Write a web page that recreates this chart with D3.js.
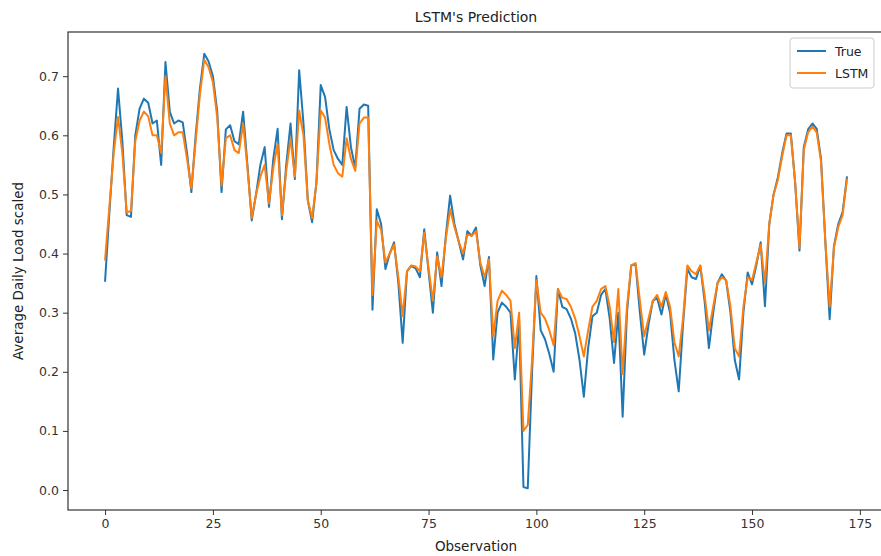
<!DOCTYPE html>
<html>
<head>
<meta charset="utf-8">
<script src="https://cdn.jsdelivr.net/npm/d3@7"></script>
<style>
  html, body { margin: 0; padding: 0; background: #fff; }
  svg { display: block; font-family: "DejaVu Sans", sans-serif; }
</style>
</head>
<body>
<svg id="chart" width="881" height="556"></svg>
<script>
// Observed daily load (scaled) and the LSTM's prediction for each observation.
const trueValues = [
  0.354, 0.47, 0.58, 0.679, 0.59, 0.465, 0.462, 0.60, 0.645, 0.662,
  0.655, 0.62, 0.625, 0.55, 0.724, 0.64, 0.62, 0.625, 0.622, 0.57,
  0.504, 0.60, 0.68, 0.738, 0.725, 0.70, 0.64, 0.504, 0.61, 0.617,
  0.59, 0.585, 0.64, 0.55, 0.456, 0.50, 0.55, 0.58, 0.479, 0.56,
  0.611, 0.458, 0.55, 0.62, 0.526, 0.71, 0.62, 0.49, 0.453, 0.52,
  0.685, 0.665, 0.61, 0.575, 0.56, 0.55, 0.648, 0.58, 0.545, 0.645,
  0.652, 0.65, 0.305, 0.475, 0.45, 0.374, 0.40, 0.419, 0.35, 0.249,
  0.37, 0.379, 0.375, 0.36, 0.441, 0.37, 0.30, 0.402, 0.345, 0.43,
  0.498, 0.45, 0.42, 0.39, 0.438, 0.43, 0.444, 0.38, 0.345, 0.394,
  0.221, 0.30, 0.317, 0.31, 0.30, 0.187, 0.283, 0.005, 0.003, 0.20,
  0.362, 0.27, 0.255, 0.23, 0.20, 0.34, 0.31, 0.306, 0.29, 0.265,
  0.22, 0.158, 0.24, 0.294, 0.30, 0.33, 0.34, 0.29, 0.215, 0.30,
  0.124, 0.30, 0.38, 0.382, 0.30, 0.229, 0.28, 0.32, 0.325, 0.297,
  0.331, 0.30, 0.22, 0.167, 0.28, 0.374, 0.36, 0.357, 0.379, 0.32,
  0.24, 0.30, 0.35, 0.365, 0.354, 0.30, 0.22, 0.187, 0.30, 0.368,
  0.348, 0.38, 0.419, 0.311, 0.45, 0.50, 0.529, 0.57, 0.603, 0.603,
  0.52, 0.405, 0.58, 0.61, 0.62, 0.611, 0.56, 0.42, 0.289, 0.413,
  0.45, 0.47, 0.529
];

const lstmValues = [
  0.39, 0.48, 0.57, 0.631, 0.57, 0.47, 0.472, 0.59, 0.625, 0.64,
  0.632, 0.60, 0.60, 0.57, 0.70, 0.62, 0.60, 0.605, 0.605, 0.56,
  0.51, 0.59, 0.67, 0.728, 0.715, 0.69, 0.63, 0.515, 0.595, 0.60,
  0.575, 0.57, 0.62, 0.545, 0.46, 0.50, 0.53, 0.55, 0.485, 0.545,
  0.585, 0.465, 0.54, 0.595, 0.53, 0.642, 0.60, 0.49, 0.46, 0.52,
  0.642, 0.63, 0.585, 0.55, 0.536, 0.53, 0.595, 0.56, 0.54, 0.62,
  0.63, 0.63, 0.33, 0.455, 0.44, 0.385, 0.40, 0.415, 0.36, 0.294,
  0.37, 0.38, 0.378, 0.37, 0.435, 0.375, 0.32, 0.395, 0.36, 0.425,
  0.475, 0.445, 0.42, 0.40, 0.432, 0.43, 0.438, 0.385, 0.36, 0.39,
  0.26, 0.32, 0.337, 0.33, 0.32, 0.24, 0.30, 0.10, 0.11, 0.22,
  0.355, 0.30, 0.29, 0.27, 0.245, 0.34, 0.325, 0.323, 0.31, 0.29,
  0.26, 0.226, 0.27, 0.31, 0.32, 0.34, 0.345, 0.31, 0.25, 0.34,
  0.196, 0.31, 0.38, 0.384, 0.32, 0.26, 0.29, 0.32, 0.33, 0.31,
  0.335, 0.31, 0.25, 0.226, 0.29, 0.38, 0.37, 0.365, 0.38, 0.33,
  0.27, 0.31, 0.35, 0.36, 0.355, 0.31, 0.24, 0.226, 0.31, 0.36,
  0.355, 0.385, 0.415, 0.35, 0.45, 0.50, 0.525, 0.565, 0.60, 0.60,
  0.52, 0.41, 0.575, 0.605, 0.615, 0.605, 0.555, 0.42, 0.31, 0.41,
  0.445, 0.465, 0.525
];

const xTickValues = [0, 25, 50, 75, 100, 125, 150, 175];
const yTickValues = [0.0, 0.1, 0.2, 0.3, 0.4, 0.5, 0.6, 0.7];
const seriesNames = ["True", "LSTM"];
const seriesColors = ["#1f77b4", "#ff7f0e"];

const svg = d3.select("#chart");
// The axes box runs a few pixels past the right edge of the canvas.
const plot = { left: 68, top: 32, right: 884, bottom: 510 };

// Axis limits padded by 5% of the data span on each side.
const n = trueValues.length;
const xPad = (n - 1) * 0.05;
const allValues = trueValues.concat(lstmValues);
const [yMin, yMax] = d3.extent(allValues);
const yPad = (yMax - yMin) * 0.05;

const x = d3.scaleLinear().domain([-xPad, n - 1 + xPad]).range([plot.left, plot.right]);
const y = d3.scaleLinear().domain([yMin - yPad, yMax + yPad]).range([plot.bottom, plot.top]);

// Lines
const line = d3.line().x((d, i) => x(i)).y(d => y(d));
const g = svg.append("g");
[trueValues, lstmValues].forEach((vals, k) => {
  g.append("path")
    .datum(vals)
    .attr("fill", "none")
    .attr("stroke", seriesColors[k])
    .attr("stroke-width", 2)
    .attr("stroke-linejoin", "round")
    .attr("stroke-linecap", "square")
    .attr("d", line);
});

// Axes
const xAxis = d3.axisBottom(x).tickValues(xTickValues).tickFormat(d3.format("d")).tickSize(5).tickPadding(4);
const yAxis = d3.axisLeft(y).tickValues(yTickValues).tickFormat(d3.format(".1f")).tickSize(5).tickPadding(4);

const gx = svg.append("g").attr("transform", `translate(0,${plot.bottom})`).call(xAxis);
const gy = svg.append("g").attr("transform", `translate(${plot.left},0)`).call(yAxis);
[gx, gy].forEach(ax => {
  ax.select(".domain").remove();
  ax.selectAll(".tick line").attr("stroke", "#333").attr("stroke-width", 1);
  ax.selectAll(".tick text").attr("fill", "#333").style("font-size", "12.5px").style("font-family", "DejaVu Sans");
});

// Frame
svg.append("rect")
  .attr("x", plot.left).attr("y", plot.top)
  .attr("width", plot.right - plot.left).attr("height", plot.bottom - plot.top)
  .attr("fill", "none").attr("stroke", "#333").attr("stroke-width", 1.2);

// Titles
svg.append("text")
  .attr("x", (plot.left + plot.right) / 2).attr("y", 22)
  .attr("text-anchor", "middle").attr("fill", "#222")
  .style("font-size", "14px")
  .text("LSTM's Prediction");

svg.append("text")
  .attr("x", (plot.left + plot.right) / 2).attr("y", 551)
  .attr("text-anchor", "middle").attr("fill", "#222")
  .style("font-size", "13.5px")
  .text("Observation");

svg.append("text")
  .attr("transform", `translate(23,${(plot.top + plot.bottom) / 2}) rotate(-90)`)
  .attr("text-anchor", "middle").attr("fill", "#222")
  .style("font-size", "13.5px")
  .text("Average Daily Load scaled");

// Legend
const legend = svg.append("g").attr("transform", "translate(790,38)");
legend.append("rect")
  .attr("width", 84).attr("height", 50).attr("rx", 3)
  .attr("fill", "#fff").attr("fill-opacity", 0.8)
  .attr("stroke", "#ccc").attr("stroke-width", 1);
seriesNames.forEach((name, k) => {
  const row = legend.append("g").attr("transform", `translate(0,${13 + k * 22})`);
  row.append("line").attr("x1", 7).attr("x2", 36).attr("y1", 0).attr("y2", 0)
    .attr("stroke", seriesColors[k]).attr("stroke-width", 2);
  row.append("text").attr("x", 45).attr("y", 4.5).attr("fill", "#222")
    .style("font-size", "12.5px").text(name);
});
</script>
</body>
</html>
